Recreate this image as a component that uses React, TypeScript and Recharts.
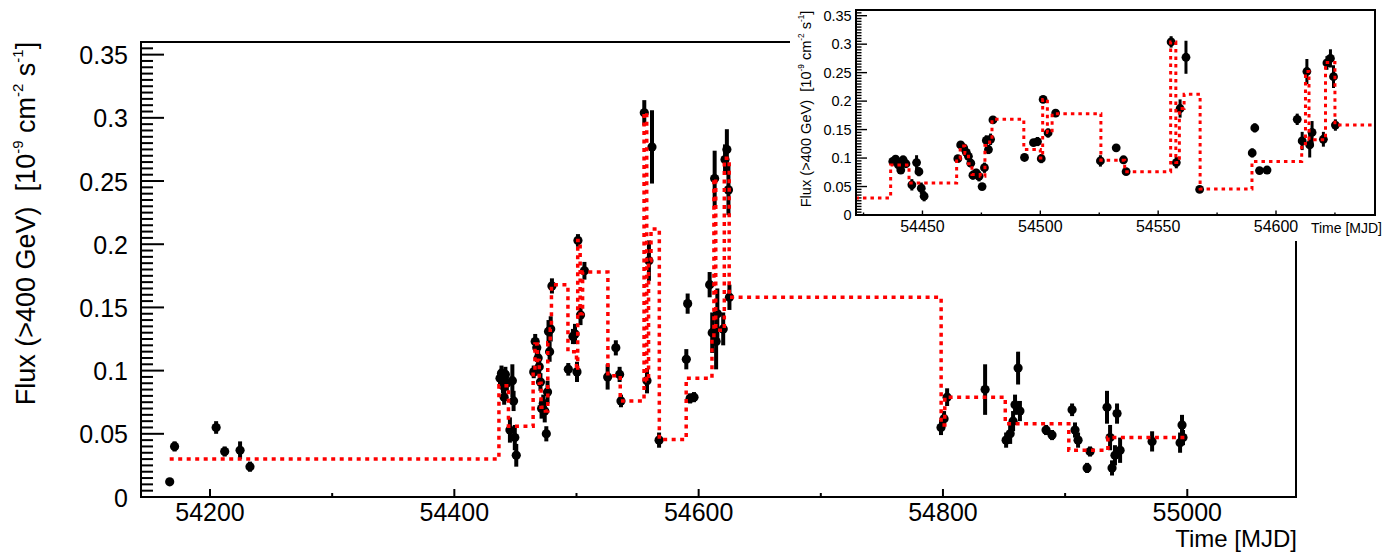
import React from 'react';
import { ComposedChart, Scatter, Line, XAxis, YAxis, ErrorBar, ReferenceArea } from 'recharts';

// ---------- data ----------
const mjd = [
  54167.0, 54171.0, 54205.0, 54212.0, 54224.6, 54232.7,
  54437.4, 54438.6, 54439.8, 54440.8, 54441.8, 54443.0, 54445.5, 54447.5, 54448.5, 54449.5, 54450.7,
  54465.0, 54466.2, 54467.5, 54468.6, 54469.5, 54470.5, 54471.4, 54472.8, 54474.0, 54475.3, 54476.3,
  54477.1, 54478.0, 54478.9, 54479.9,
  54493.3, 54497.1, 54498.8, 54500.4, 54501.2, 54503.3, 54506.5,
  54525.5, 54532.2, 54535.3, 54536.4,
  54555.5, 54557.7, 54559.3, 54561.8, 54567.6,
  54589.9, 54591.0, 54593.0, 54596.2,
  54609.0, 54611.1, 54613.1, 54614.3, 54615.3, 54620.1, 54621.6, 54623.1, 54624.4, 54625.2,
  54798.4, 54800.9, 54803.4, 54834.5, 54851.7, 54855.0, 54857.4, 54859.0, 54861.5, 54863.0,
  54884.4, 54889.3, 54905.7, 54908.1, 54910.6, 54918.0, 54920.4,
  54934.3, 54936.8, 54938.4, 54940.8, 54942.5, 54945.0, 54971.2, 54994.1, 54995.7, 54996.5,
];
const flux = [
  0.012, 0.040, 0.055, 0.036, 0.037, 0.024,
  0.094, 0.098, 0.088, 0.079, 0.097, 0.090, 0.053, 0.092, 0.076, 0.047, 0.033,
  0.099, 0.123, 0.118, 0.110, 0.103, 0.091, 0.070, 0.074, 0.068, 0.050, 0.083,
  0.131, 0.115, 0.133, 0.167,
  0.101, 0.127, 0.129, 0.099, 0.203, 0.144, 0.179,
  0.095, 0.118, 0.097, 0.076,
  0.304, 0.092, 0.187, 0.277, 0.045,
  0.109, 0.153, 0.078, 0.079,
  0.168, 0.130, 0.252, 0.123, 0.145, 0.133, 0.267, 0.275, 0.243, 0.158,
  0.055, 0.062, 0.079, 0.085, 0.045, 0.050, 0.060, 0.073, 0.102, 0.068,
  0.053, 0.049, 0.069, 0.053, 0.045, 0.023, 0.036,
  0.071, 0.047, 0.023, 0.033, 0.066, 0.037, 0.044, 0.043, 0.057, 0.047,
];
const fluxErr = [
  0.002, 0.004, 0.005, 0.004, 0.007, 0.004,
  0.005, 0.006, 0.006, 0.006, 0.006, 0.006, 0.010, 0.013, 0.008, 0.010, 0.009,
  0.005, 0.006, 0.006, 0.006, 0.007, 0.007, 0.008, 0.007, 0.009, 0.006, 0.009,
  0.009, 0.008, 0.010, 0.006,
  0.005, 0.006, 0.008, 0.008, 0.005, 0.008, 0.007,
  0.010, 0.006, 0.006, 0.005,
  0.010, 0.010, 0.016, 0.029, 0.006,
  0.008, 0.008, 0.004, 0.004,
  0.010, 0.016, 0.022, 0.022, 0.020, 0.013, 0.012, 0.016, 0.020, 0.010,
  0.006, 0.006, 0.007, 0.020, 0.006, 0.008, 0.008, 0.008, 0.013, 0.008,
  0.004, 0.004, 0.005, 0.006, 0.006, 0.004, 0.004,
  0.013, 0.010, 0.006, 0.008, 0.008, 0.010, 0.008, 0.008, 0.008, 0.006,
];

// Bayesian-block style light curve: block start edges and block levels
const blockEdges = [
  54167, 54436.5, 54444.3, 54464.5, 54466, 54468, 54469.5, 54471, 54474.5, 54476.5, 54478.5, 54479.5,
  54493, 54500, 54501, 54503, 54505, 54525.7, 54535.8, 54555.3, 54557.5, 54559, 54561, 54567.8,
  54589.8, 54610.9, 54612.5, 54614, 54621, 54625, 54798.5, 54801.5, 54851, 54903, 54935, 54998,
];
const blockFlux = [
  0.030, 0.088, 0.056, 0.099, 0.121, 0.108, 0.090, 0.071, 0.068, 0.122, 0.133, 0.168,
  0.115, 0.100, 0.203, 0.145, 0.178, 0.096, 0.076, 0.304, 0.092, 0.187, 0.212, 0.0455,
  0.094, 0.125, 0.252, 0.132, 0.268, 0.158, 0.057, 0.079, 0.058, 0.037, 0.047,
];

const yTickLabels = ['0', '0.05', '0.1', '0.15', '0.2', '0.25', '0.3', '0.35'];
const mainXTickLabels = ['54200', '54400', '54600', '54800', '55000'];
const insetXTickLabels = ['54450', '54500', '54550', '54600'];

const MAIN_X_DOMAIN: [number, number] = [54143.5, 55089];
const INSET_X_DOMAIN: [number, number] = [54421.8, 54642];

// ---------- derived tables ----------
const points = mjd.map((x, i) => ({ x, y: flux[i], err: fluxErr[i] }));
const steps = blockEdges.map((x, i) => ({ x, y: blockFlux[Math.min(i, blockFlux.length - 1)] }));

const yTicks: number[] = [];
for (let i = 0; i <= 72; i++) yTicks.push(+(i * 0.005).toFixed(3));
const mainXTicks: number[] = [];
for (let v = 54200; v <= 55000; v += 100) mainXTicks.push(v);
const insetXTicks: number[] = [];
for (let v = 54425; v <= 54625; v += 25) insetXTicks.push(v);

// tick marks placed through the chart scales (drawn inward, ROOT style)
const mainYMarks = yTicks.map((v, i) => ({ x: MAIN_X_DOMAIN[0], y: v, major: i % 10 === 0 }));
const mainXMarks = mainXTicks.map((v) => ({ x: v, y: 0, major: v % 200 === 0 }));
const insetYMarks = yTicks.map((v, i) => ({ x: INSET_X_DOMAIN[0], y: v, major: i % 10 === 0 }));
const insetXMarks = insetXTicks.map((v) => ({ x: v, y: 0, major: v % 50 === 0 }));

const FONT = '"Liberation Sans", Arial, Helvetica, sans-serif';
const RED = '#ff0000';

// ---------- tick mark shapes ----------
const hMark = (lenMajor: number, lenMinor: number, w: number) => (p: any) => (
  <line
    x1={p.cx}
    x2={p.cx + (p.payload && p.payload.major ? lenMajor : lenMinor)}
    y1={p.cy}
    y2={p.cy}
    stroke="#000"
    strokeWidth={w}
  />
);
const vMark = (lenMajor: number, lenMinor: number, w: number) => (p: any) => (
  <line
    x1={p.cx}
    x2={p.cx}
    y1={p.cy}
    y2={p.cy - (p.payload && p.payload.major ? lenMajor : lenMinor)}
    stroke="#000"
    strokeWidth={w}
  />
);

// ---------- tick labels ----------
const MainYTick = (props: any) => {
  const { y, payload } = props;
  const idx = Math.round(payload.value / 0.005);
  if (idx % 10 !== 0 || idx / 10 >= yTickLabels.length) return <g />;
  return (
    <text x={128} y={y + 9.6} textAnchor="end" fontSize={25} fontFamily={FONT} fill="#000">
      {yTickLabels[idx / 10]}
    </text>
  );
};

const MainXTick = (props: any) => {
  const { x, payload } = props;
  const li = mainXTickLabels.indexOf(String(payload.value));
  if (li < 0) return <g />;
  return (
    <text x={x} y={521} textAnchor="middle" fontSize={25} fontFamily={FONT} fill="#000">
      {mainXTickLabels[li]}
    </text>
  );
};

const InsetYTick = (props: any) => {
  const { y, payload } = props;
  const idx = Math.round(payload.value / 0.005);
  if (idx % 10 !== 0 || idx / 10 >= yTickLabels.length) return <g />;
  return (
    <text x={61.7} y={y + 5.3} textAnchor="end" fontSize={14.5} fontFamily={FONT} fill="#000">
      {yTickLabels[idx / 10]}
    </text>
  );
};

const InsetXTick = (props: any) => {
  const { x, payload } = props;
  const li = insetXTickLabels.indexOf(String(payload.value));
  if (li < 0) return <g />;
  return (
    <text x={x} y={231.7} textAnchor="middle" fontSize={16} fontFamily={FONT} fill="#000">
      {insetXTickLabels[li]}
    </text>
  );
};

// ---------- titles ----------
const YTitle = ({ cx, cy, base, sup, raise }: any) => (
  <text
    x={cx}
    y={cy}
    transform={`rotate(-90, ${cx}, ${cy})`}
    textAnchor="middle"
    fontSize={base}
    fontFamily={FONT}
    fill="#000"
    style={{ whiteSpace: 'pre' }}
  >
    <tspan>{'Flux (>400 GeV)  [10'}</tspan>
    <tspan fontSize={sup} dy={-raise}>{'-9'}</tspan>
    <tspan dy={raise}>{' cm'}</tspan>
    <tspan fontSize={sup} dy={-raise}>{'-2'}</tspan>
    <tspan dy={raise}>{' s'}</tspan>
    <tspan fontSize={sup} dy={-raise}>{'-1'}</tspan>
    <tspan dy={raise}>{']'}</tspan>
  </text>
);

const MainYTitle = () => <YTitle cx={35} cy={223.5} base={27} sup={15} raise={12.5} />;
const InsetYTitle = () => <YTitle cx={20.5} cy={109} base={14.6} sup={8.2} raise={6.6} />;

const MainXTitle = () => (
  <text x={1297} y={547} textAnchor="end" fontSize={24} fontFamily={FONT} fill="#000">
    Time [MJD]
  </text>
);
const InsetXTitle = () => (
  <text x={592} y={232.5} textAnchor="end" fontSize={14} fontFamily={FONT} fill="#000">
    Time [MJD]
  </text>
);

const mainDot = (p: any) => <circle cx={p.cx} cy={p.cy} r={4.6} fill="#000" />;
const insetDot = (p: any) => <circle cx={p.cx} cy={p.cy} r={4.4} fill="#000" />;

export default function App() {
  return (
    <div style={{ position: 'absolute', left: 0, top: 0, width: 1392, height: 552, background: '#fff' }}>
      <ComposedChart width={1392} height={552} margin={{ top: 42, right: 96, bottom: 25, left: 61 }}>
        <XAxis
          dataKey="x"
          type="number"
          domain={MAIN_X_DOMAIN}
          allowDataOverflow
          ticks={mainXTicks}
          interval={0}
          tick={<MainXTick />}
          tickLine={false}
          axisLine={false}
          height={30}
          label={<MainXTitle />}
        />
        <YAxis
          type="number"
          domain={[0, 0.36]}
          allowDataOverflow
          ticks={yTicks}
          interval={0}
          tick={<MainYTick />}
          tickLine={false}
          axisLine={false}
          width={80}
          label={<MainYTitle />}
        />
        <Scatter data={mainYMarks} dataKey="y" shape={hMark(23, 12, 2)} isAnimationActive={false} />
        <Scatter data={mainXMarks} dataKey="y" shape={vMark(8, 4, 2)} isAnimationActive={false} />
        <Scatter data={points} dataKey="y" shape={mainDot} isAnimationActive={false}>
          <ErrorBar dataKey="err" direction="y" width={0} strokeWidth={4} stroke="#000" />
        </Scatter>
        <Line
          data={steps}
          dataKey="y"
          type="stepAfter"
          stroke={RED}
          strokeWidth={3.5}
          strokeDasharray="4 4.5"
          dot={false}
          activeDot={false}
          isAnimationActive={false}
          zIndex={700}
        />
        <ReferenceArea
          x1={MAIN_X_DOMAIN[0]}
          x2={MAIN_X_DOMAIN[1]}
          y1={0}
          y2={0.36}
          fill="none"
          fillOpacity={0}
          stroke="#000"
          strokeWidth={2}
          ifOverflow="visible"
          zIndex={800}
        />
      </ComposedChart>

      <div style={{ position: 'absolute', left: 790, top: 0, width: 602, height: 241, background: '#fff' }}>
        <ComposedChart width={602} height={241} margin={{ top: 10, right: 17, bottom: 6, left: 16 }}>
          <XAxis
            dataKey="x"
            type="number"
            domain={INSET_X_DOMAIN}
            allowDataOverflow
            ticks={insetXTicks}
            interval={0}
            tick={<InsetXTick />}
            tickLine={false}
            axisLine={false}
            height={20}
            label={<InsetXTitle />}
          />
          <YAxis
            type="number"
            domain={[0, 0.36]}
            allowDataOverflow
            ticks={yTicks}
            interval={0}
            tick={<InsetYTick />}
            tickLine={false}
            axisLine={false}
            width={50}
            label={<InsetYTitle />}
          />
          <Scatter data={insetYMarks} dataKey="y" shape={hMark(11, 5.5, 1.4)} isAnimationActive={false} />
          <Scatter data={insetXMarks} dataKey="y" shape={vMark(4.5, 2.5, 1.4)} isAnimationActive={false} />
          <Scatter data={points} dataKey="y" shape={insetDot} isAnimationActive={false}>
            <ErrorBar dataKey="err" direction="y" width={0} strokeWidth={3} stroke="#000" />
          </Scatter>
          <Line
            data={steps}
            dataKey="y"
            type="stepAfter"
            stroke={RED}
            strokeWidth={3}
            strokeDasharray="3.5 4"
            dot={false}
            activeDot={false}
            isAnimationActive={false}
            zIndex={700}
          />
          <ReferenceArea
            x1={INSET_X_DOMAIN[0]}
            x2={INSET_X_DOMAIN[1]}
            y1={0}
            y2={0.36}
            fill="none"
            fillOpacity={0}
            stroke="#000"
            strokeWidth={2}
            ifOverflow="visible"
            zIndex={800}
          />
        </ComposedChart>
      </div>
    </div>
  );
}
